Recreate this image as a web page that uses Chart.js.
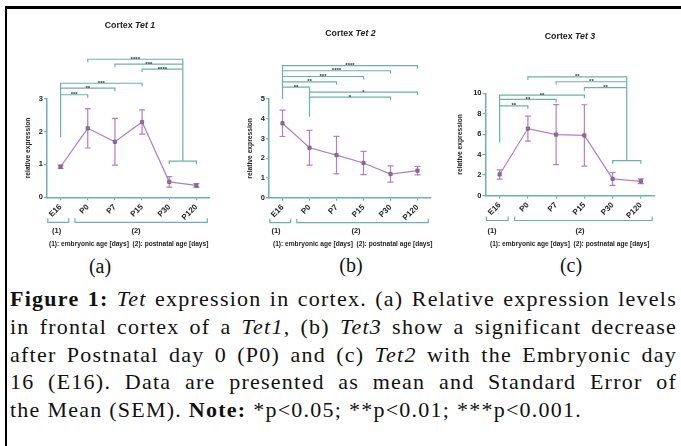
<!DOCTYPE html>
<html>
<head>
<meta charset="utf-8">
<script src="https://cdn.jsdelivr.net/npm/chart.js@4.4.1/dist/chart.umd.min.js"></script>
<style>
  body { margin: 0; width: 681px; height: 446px; overflow: hidden; background: #fff; position: relative; font-family: "Liberation Sans", Arial, sans-serif; color: #111; }
  canvas { position: absolute; top: 0; }
  .rule-top { position: absolute; left: 5px; top: 6px; width: 676px; height: 3px; background: #000; }
  .rule-left { position: absolute; left: 5px; top: 6px; width: 2px; height: 440px; background: #000; }
  .t { position: absolute; transform: translate(-50%, -50%); white-space: nowrap; }
  .title { font-weight: bold; font-size: 8.8px; color: #222; }
  .grp { font-weight: bold; font-size: 7.5px; color: #222; }
  .note { position: absolute; white-space: nowrap; font-weight: bold; font-size: 6.6px; color: #222; transform: translateY(-50%); }
  .lab { font-family: "Liberation Serif", serif; font-size: 20px; color: #111; }
  .caption { position: absolute; left: 10px; top: 285px; width: 667px; font-family: "Liberation Serif", serif; font-size: 22px; letter-spacing: 1.25px; line-height: 27.8px; color: #111; }
  .caption div { text-align: justify; text-align-last: justify; white-space: nowrap; }
  .caption div.last { text-align: left; text-align-last: left; }
</style>
</head>
<body>
<div class="rule-top"></div>
<div class="rule-left"></div>

<canvas id="tet1" width="225" height="232" style="left:0px"></canvas>
<canvas id="tet2" width="225" height="232" style="left:225px"></canvas>
<canvas id="tet3" width="231" height="232" style="left:450px"></canvas>

<div class="t title" style="left:130px;top:25px">Cortex <i>Tet 1</i></div>
<div class="t title" style="left:350.5px;top:33.3px">Cortex <i>Tet 2</i></div>
<div class="t title" style="left:570px;top:35.7px">Cortex <i>Tet 3</i></div>

<div class="t grp" style="left:56.7px;top:230px">(1)</div>
<div class="t grp" style="left:136px;top:230px">(2)</div>
<div class="t grp" style="left:276px;top:230px">(1)</div>
<div class="t grp" style="left:356px;top:230px">(2)</div>
<div class="t grp" style="left:492px;top:230px">(1)</div>
<div class="t grp" style="left:580px;top:230px">(2)</div>

<div class="note" style="left:49px;top:243px">(1): embryonic age [days]&nbsp; (2): postnatal age [days]</div>
<div class="note" style="left:273px;top:243px">(1): embryonic age [days]&nbsp; (2): postnatal age [days]</div>
<div class="note" style="left:490px;top:243px">(1): embryonic age [days]&nbsp; (2): postnatal age [days]</div>

<div class="t lab" style="left:100px;top:266px">(a)</div>
<div class="t lab" style="left:351px;top:265px">(b)</div>
<div class="t lab" style="left:571px;top:265px">(c)</div>

<div class="caption">
  <div><b>Figure 1:</b> <i>Tet</i> expression in cortex. (a) Relative expression levels</div>
  <div>in frontal cortex of a <i>Tet1</i>, (b) <i>Tet3</i> show a significant decrease</div>
  <div>after Postnatal day 0 (P0) and (c) <i>Tet2</i> with the Embryonic day</div>
  <div>16 (E16). Data are presented as mean and Standard Error of</div>
  <div class="last">the Mean (SEM). <b>Note:</b> *p&lt;0.05; **p&lt;0.01; ***p&lt;0.001.</div>
</div>

<script>
// ages on the x axis
const ages = ['E16', 'P0', 'P7', 'P15', 'P30', 'P120'];

// mean and SEM
const tet1Mean = [0.93, 2.10, 1.69, 2.29, 0.47, 0.36];
const tet1Sem  = [0.05, 0.60, 0.71, 0.37, 0.16, 0.06];
const tet2Mean = [3.77, 2.53, 2.16, 1.76, 1.20, 1.37];
const tet2Sem  = [0.67, 0.88, 0.95, 0.59, 0.41, 0.21];
const tet3Mean = [2.06, 6.55, 5.96, 5.88, 1.62, 1.39];
const tet3Sem  = [0.45, 1.22, 2.93, 3.00, 0.63, 0.23];

// y tick labels
const tet1Ticks = [0, 1, 2, 3];
const tet2Ticks = [0, 1, 2, 3, 4, 5];
const tet3Ticks = [0, 2, 4, 6, 8, 10];

// significance brackets: [from, to, level, stars]
const tet1Sig = [[0, 1, 3.12, '***'], [0, 2, 3.32, '**'], [0, 3, 3.47, '***'],
                 [1, 4.5, 4.20, '****'], [2, 4.5, 4.05, '***'], [3, 4.5, 3.90, '****'], [4, 5, 1.10, '']];
const tet2Sig = [[0, 1, 5.60, '**'], [0, 2, 5.87, '**'], [0, 3, 6.14, '***'], [0, 4, 6.43, '****'],
                 [0, 5, 6.69, '****'], [1, 4, 5.10, '*'], [1, 5, 5.35, '*']];
const tet3Sig = [[0, 1, 8.77, '**'], [0, 2, 9.40, '**'], [0, 3, 9.82, '**'],
                 [1, 4.5, 11.60, '**'], [2, 4.5, 11.13, '**'], [3, 4.5, 10.55, '**'], [4, 5, 3.41, '']];
// vertical stems joining brackets: [x, top, bottom]
const tet1Stems = [[0, 3.47, 1.83], [4.5, 4.20, 1.10]];
const tet2Stems = [[0, 6.69, 5.00], [1, 5.60, 4.10]];
const tet3Stems = [[0, 9.82, 5.18], [4.5, 11.60, 3.41]];

const teal = '#6cb2ab';
const purple = '#b67dc7';
const ink = '#222';

function extras(mean, sem, sig, stems) {
  return {
    id: 'extras',
    beforeDatasetsDraw(chart) {
      const {ctx, scales: {x, y}} = chart;
      ctx.save();
      ctx.strokeStyle = purple;
      ctx.lineWidth = 1.2;
      mean.forEach((m, i) => {
        const px = x.getPixelForValue(i);
        const top = y.getPixelForValue(m + sem[i]);
        const bot = y.getPixelForValue(m - sem[i]);
        ctx.beginPath();
        ctx.moveTo(px, top); ctx.lineTo(px, bot);
        ctx.moveTo(px - 3, top); ctx.lineTo(px + 3, top);
        ctx.moveTo(px - 3, bot); ctx.lineTo(px + 3, bot);
        ctx.stroke();
      });
      ctx.restore();
    },
    afterDraw(chart) {
      const {ctx, chartArea, scales: {x, y}} = chart;
      ctx.save();
      ctx.strokeStyle = teal;
      ctx.lineWidth = 1.2;
      ctx.beginPath();
      sig.forEach(([a, b, lvl]) => {
        const x1 = x.getPixelForValue(a), x2 = x.getPixelForValue(b), py = y.getPixelForValue(lvl);
        ctx.moveTo(x1, py + 3); ctx.lineTo(x1, py); ctx.lineTo(x2, py); ctx.lineTo(x2, py + 3);
      });
      stems.forEach(([a, t, b]) => {
        const px = x.getPixelForValue(a);
        ctx.moveTo(px, y.getPixelForValue(t)); ctx.lineTo(px, y.getPixelForValue(b));
      });
      // group brackets under the axis
      const gy = chartArea.bottom + 25;
      [[-0.47, 0.3], [0.53, 5.4]].forEach(([a, b]) => {
        const x1 = x.getPixelForValue(a), x2 = x.getPixelForValue(b);
        ctx.moveTo(x1, gy - 4); ctx.lineTo(x1, gy); ctx.lineTo(x2, gy); ctx.lineTo(x2, gy - 4);
      });
      ctx.stroke();

      ctx.fillStyle = '#333';
      ctx.font = 'bold 6px "Liberation Sans"';
      ctx.textAlign = 'center';
      ctx.textBaseline = 'alphabetic';
      sig.forEach(([a, b, lvl, stars]) => {
        if (!stars) return;
        const cx = (x.getPixelForValue(a) + x.getPixelForValue(b)) / 2;
        ctx.fillText(stars, cx, y.getPixelForValue(lvl) + 1.5);
      });
      ctx.restore();
    }
  };
}

function drawPanel(id, mean, sem, yTicks, sig, stems, box) {
  const canvas = document.getElementById(id);
  const W = canvas.width, H = canvas.height;
  new Chart(canvas, {
    type: 'line',
    data: {
      labels: ages,
      datasets: [{
        data: mean,
        borderColor: purple,
        borderWidth: 1.2,
        pointStyle: 'rect',
        pointRadius: 2.3,
        pointBackgroundColor: '#8d7392',
        pointBorderColor: '#76607b',
        pointBorderWidth: 0.8,
        tension: 0
      }]
    },
    options: {
      responsive: false,
      animation: false,
      layout: { padding: { left: 0, top: box.top, right: W - box.right, bottom: 0 } },
      plugins: { legend: { display: false }, tooltip: { enabled: false } },
      scales: {
        x: {
          offset: true,
          border: { color: teal, width: 1.5 },
          grid: { drawOnChartArea: false, color: teal, tickLength: 3, lineWidth: 1.2 },
          ticks: { color: ink, font: { family: 'Liberation Sans', weight: 'bold', size: 8 },
                   minRotation: 45, maxRotation: 45, padding: 2, autoSkip: false },
          afterFit: s => { s.height = H - box.bottom; }
        },
        y: {
          min: yTicks[0],
          max: yTicks[yTicks.length - 1],
          afterBuildTicks: s => { s.ticks = yTicks.map(v => ({ value: v })); },
          border: { color: teal, width: 1.5 },
          grid: { drawOnChartArea: false, color: teal, tickLength: 3, lineWidth: 1.2 },
          ticks: { color: ink, font: { family: 'Liberation Sans', weight: 'bold', size: 7.5 }, padding: 1 },
          title: { display: true, text: 'relative expression', color: ink,
                   font: { family: 'Liberation Sans', weight: 'bold', size: 6.7 },
                   padding: { top: box.titleX - 4, bottom: 0 } },
          afterFit: s => { s.width = box.left; }
        }
      }
    },
    plugins: [extras(mean, sem, sig, stems)]
  });
}

drawPanel('tet1', tet1Mean, tet1Sem, tet1Ticks, tet1Sig, tet1Stems,
          { left: 47, right: 210, top: 98.7, bottom: 197.3, titleX: 28 });
drawPanel('tet2', tet2Mean, tet2Sem, tet2Ticks, tet2Sig, tet2Stems,
          { left: 44, right: 206, top: 99, bottom: 197.7, titleX: 25 });
drawPanel('tet3', tet3Mean, tet3Sem, tet3Ticks, tet3Sig, tet3Stems,
          { left: 35.5, right: 205, top: 93.3, bottom: 195.5, titleX: 10 });
</script>
</body>
</html>
